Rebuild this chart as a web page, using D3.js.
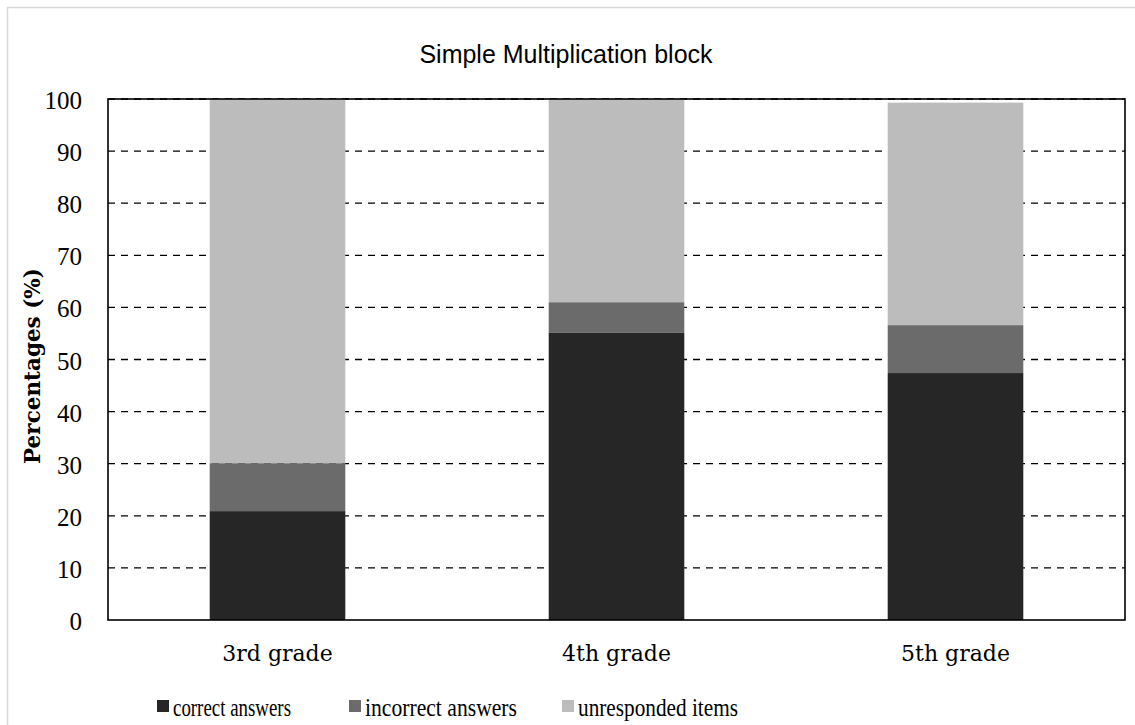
<!DOCTYPE html>
<html>
<head>
<meta charset="utf-8">
<script src="https://cdn.jsdelivr.net/npm/d3@7/dist/d3.min.js"></script>
<style>
  html, body { margin: 0; padding: 0; background: #fff; }
  svg { display: block; }
</style>
</head>
<body>
<svg id="chart" width="1135" height="725"></svg>
<script>
// Grades on the x axis
const grades = ["3rd grade", "4th grade", "5th grade"];
// Response categories stacked in each bar (bottom to top)
const seriesNames = ["correct answers", "incorrect answers", "unresponded items"];
const correct = [20.9, 55.2, 47.4];
const incorrect = [9.2, 5.8, 9.2];
const unresponded = [69.9, 39.0, 42.7];
const yTicks = [0, 10, 20, 30, 40, 50, 60, 70, 80, 90, 100];
const colors = ["#262626", "#6b6b6b", "#bcbcbc"];

const svg = d3.select("#chart");
const W = 1135, H = 725;
const margin = { left: 108, right: 10, top: 99, bottom: 105 };
const plotW = W - margin.left - margin.right;
const plotH = H - margin.top - margin.bottom;
const serif = "'Liberation Serif', 'DejaVu Serif', serif";
const wideSerif = "'DejaVu Serif', 'Liberation Serif', serif";

// outer frame
svg.append("rect")
  .attr("x", 7.5).attr("y", 7.5)
  .attr("width", W + 20).attr("height", H + 20)
  .attr("fill", "#fff").attr("stroke", "#d9d9d9").attr("stroke-width", 1.5);

const rows = grades.map((g, i) => ({
  grade: g,
  "correct answers": correct[i],
  "incorrect answers": incorrect[i],
  "unresponded items": unresponded[i]
}));
const stacked = d3.stack().keys(seriesNames)(rows);

const x = d3.scaleBand().domain(grades).range([0, plotW])
  .paddingInner(0.6).paddingOuter(0.3);
const y = d3.scaleLinear().domain([0, 100]).range([plotH, 0]);

const g = svg.append("g").attr("transform", `translate(${margin.left},${margin.top})`);

// dashed gridlines
g.append("g").selectAll("line")
  .data(yTicks.filter(t => t > 0))
  .join("line")
  .attr("x1", 0).attr("x2", plotW)
  .attr("y1", d => y(d)).attr("y2", d => y(d))
  .attr("stroke", "#000").attr("stroke-width", 1.3)
  .attr("stroke-dasharray", "7,6");

// stacked bars
g.append("g").selectAll("g")
  .data(stacked)
  .join("g")
  .attr("fill", (d, i) => colors[i])
  .selectAll("rect")
  .data(d => d)
  .join("rect")
  .attr("x", d => x(d.data.grade))
  .attr("width", x.bandwidth())
  .attr("y", d => y(d[1]))
  .attr("height", d => y(d[0]) - y(d[1]));

// plot frame
g.append("rect")
  .attr("x", 0).attr("y", 0).attr("width", plotW).attr("height", plotH)
  .attr("fill", "none").attr("stroke", "#000").attr("stroke-width", 1.6);

// y axis labels
const yAxis = d3.axisLeft(y).tickValues(yTicks).tickSize(0).tickPadding(26);
const ya = g.append("g").call(yAxis);
ya.select(".domain").remove();
ya.selectAll("text")
  .attr("font-family", serif)
  .attr("font-size", 25).attr("fill", "#000")
  .attr("dy", "0.38em");

// x axis labels
const xAxis = d3.axisBottom(x).tickSize(0).tickPadding(25);
const xa = g.append("g").attr("transform", `translate(0,${plotH})`).call(xAxis);
xa.select(".domain").remove();
xa.selectAll("text")
  .attr("font-family", wideSerif)
  .attr("font-size", 22).attr("fill", "#000");

// y axis title
svg.append("text")
  .attr("transform", "translate(40,366) rotate(-90)")
  .attr("text-anchor", "middle")
  .attr("font-family", wideSerif)
  .attr("font-weight", "bold").attr("font-size", 21.5)
  .text("Percentages (%)");

// chart title
svg.append("text")
  .attr("x", 566).attr("y", 63)
  .attr("text-anchor", "middle")
  .attr("font-family", "'Liberation Sans', Arial, sans-serif")
  .attr("font-size", 25).attr("fill", "#000")
  .text("Simple Multiplication block");

// legend (narrow set type)
const legendX = [157, 349, 562];
const legendTextW = [118, 152, 160];
const legend = svg.append("g").selectAll("g")
  .data(seriesNames)
  .join("g")
  .attr("transform", (d, i) => `translate(${legendX[i]},700)`);
legend.append("rect")
  .attr("width", 12).attr("height", 12)
  .attr("fill", (d, i) => colors[i]);
legend.append("text")
  .attr("x", 16).attr("y", 16)
  .attr("font-family", serif)
  .attr("font-size", 26).attr("fill", "#000")
  .attr("textLength", (d, i) => legendTextW[i])
  .attr("lengthAdjust", "spacingAndGlyphs")
  .text(d => d);
</script>
</body>
</html>
